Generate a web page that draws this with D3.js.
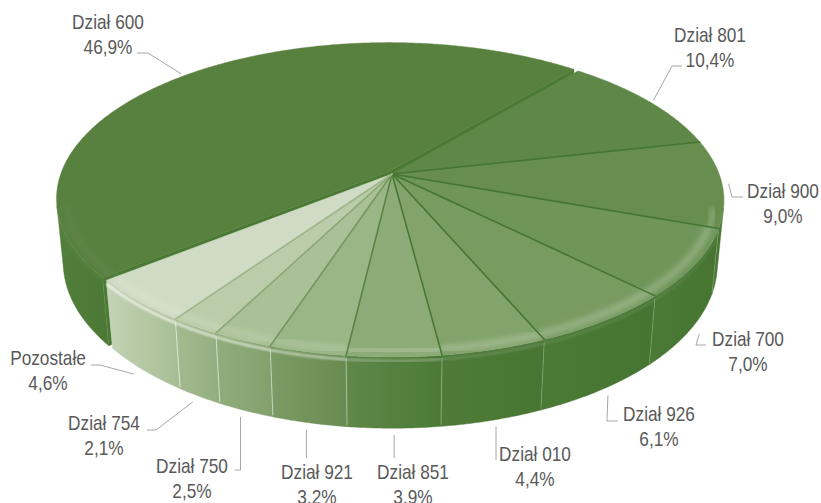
<!DOCTYPE html>
<html>
<head>
<meta charset="utf-8">
<script src="https://cdn.jsdelivr.net/npm/d3@7"></script>
<style>
  html, body { margin: 0; padding: 0; background: #ffffff; }
  svg { display: block; }
  .lbl { font-family: 'Liberation Sans Narrow', 'Arial Narrow', 'Liberation Sans', sans-serif; font-size: 21px; fill: #595959; }
</style>
</head>
<body>
<svg id="chart" width="821" height="503"></svg>
<script>
// ---- data ----
const categories = ['Dział 600', 'Dział 801', 'Dział 900', 'Dział 700', 'Dział 926', 'Dział 010',
                    'Dział 851', 'Dział 921', 'Dział 750', 'Dział 754', 'Pozostałe'];
const shares = [46.9, 10.4, 9.0, 7.0, 6.1, 4.4, 3.9, 3.2, 2.5, 2.1, 4.6];

// ---- styling ----
const topColors = ['#58803f', '#5f8747', '#678e4f', '#6f9558', '#789b61', '#82a36b',
                   '#8dab77', '#9bb686', '#aac197', '#bacca9', '#cfdbc4'];
const sideLight = ['#52803c', '#4c7b37', '#4b7a36', '#4b7a36', '#4b7a36', '#4e7c38',
                   '#5f8849', '#7b9c64', '#92ad7c', '#a4ba90', '#c4d3b6'];
const sideDark  = ['#4b7935', '#477633', '#467532', '#467532', '#467532', '#477633',
                   '#4b7a36', '#688b52', '#82a06c', '#94ae80', '#a6bd92'];
const bevelAlpha = [0.03, 0.04, 0.06, 0.08, 0.1, 0.14, 0.3, 0.55, 0.65, 0.7, 0.75];
const glowAlpha  = [0.03, 0.12, 0.16, 0.2, 0.2, 0.2, 0.18, 0.15, 0.12, 0.12, 0.12];
const explode = [0.018, 0, 0, 0, 0, 0, 0, 0, 0, 0, 0];
const narrow = 0.82;   // horizontal squeeze of label glyphs

// label layout: centre x, first baseline y, leader points (from slice outwards; null x = same as anchor)
const labelX = [108, 710, 783, 748, 659, 535, 413, 317, 192, 104, 48];
const labelY = [29, 42, 198, 346, 421, 461, 479, 479, 473, 430, 365];
const lineGap = 24.5;
const leaderPts = [
  [[148, 53], [137, 53]],
  [[672, 66], [682, 66]],
  [[732, 197], [743, 197]],
  [[696, 345], [706, 345]],
  [[607, 421], [618, 421]],
  [[496, 460]],
  [[null, 458]],
  [[null, 458]],
  [[null, 470], [235, 470]],
  [[156, 430], [147, 430]],
  [[100, 365], [91, 365]]
];

// ---- 3D view ----
const deg = Math.PI / 180;
const view = { cx: 392, cy: 174, F: 1710, D: 5.227, tilt: 27.68 * deg, h: 0.2216 };
const startAngle = -128.7 * deg;
const cT = Math.cos(view.tilt), sT = Math.sin(view.tilt);

function project(x, y, z) {
  const qx = x, qy = y + view.D * cT, qz = z - view.D * sT;
  const depth = qy * cT - qz * sT;
  const up = qy * sT + qz * cT;
  return [view.cx + view.F * qx / depth, view.cy - view.F * up / depth];
}
function pt(a, r, z, off) {
  return project(off[0] + r * Math.sin(a), off[1] + r * Math.cos(a), z);
}
function arcPts(a0, a1, r, z, off) {
  const n = Math.max(2, Math.ceil(Math.abs(a1 - a0) / (0.5 * deg)));
  return d3.range(n + 1).map(k => pt(a0 + (a1 - a0) * k / n, r, z, off));
}
// part of the outer wall that faces the viewer
const aLim = Math.acos(-1 / (view.D * cT));
function frontPart(a0, a1) {
  for (const k of [-1, 0, 1]) {
    const L = aLim + k * 2 * Math.PI, U = 2 * Math.PI - aLim + k * 2 * Math.PI;
    const b0 = Math.max(a0, L), b1 = Math.min(a1, U);
    if (b1 > b0) return [b0, b1];
  }
  return null;
}

const pie = d3.pie().sort(null).value(d => d)
  .startAngle(startAngle).endAngle(startAngle + 2 * Math.PI);
const slices = pie(shares).map((d, i) => {
  const mid = (d.startAngle + d.endAngle) / 2;
  const e = explode[i];
  return Object.assign({}, d, { i, mid, off: [e * Math.sin(mid), e * Math.cos(mid)],
                                front: frontPart(d.startAngle, d.endAngle) });
});

const svg = d3.select('#chart');
const defs = svg.append('defs');
defs.append('filter').attr('id', 'soft').attr('x', '-10%').attr('y', '-10%')
  .attr('width', '120%').attr('height', '120%')
  .append('feGaussianBlur').attr('stdDeviation', 1.1);
defs.append('filter').attr('id', 'softer').attr('x', '-10%').attr('y', '-10%')
  .attr('width', '120%').attr('height', '120%')
  .append('feGaussianBlur').attr('stdDeviation', 2.5);

const poly = d3.line().curve(d3.curveLinearClosed);
const open = d3.line();
const g = svg.append('g');

// outer walls
function drawWall(s) {
  if (!s.front) return;
  const [b0, b1] = s.front;
  const top = arcPts(b0, b1, 1, 0, s.off);
  const bot = arcPts(b1, b0, 1, -view.h, s.off);
  const all = top.concat(bot);
  const xs = d3.extent(all, p => p[0]);
  const gid = 'wall' + s.i;
  const lg = defs.append('linearGradient').attr('id', gid)
    .attr('gradientUnits', 'userSpaceOnUse')
    .attr('x1', xs[0]).attr('x2', xs[1]).attr('y1', 0).attr('y2', 0);
  lg.append('stop').attr('offset', 0).attr('stop-color', sideLight[s.i]);
  lg.append('stop').attr('offset', 1).attr('stop-color', sideDark[s.i]);
  g.append('path').attr('d', poly(all)).attr('fill', `url(#${gid})`)
    .attr('stroke', sideDark[s.i]).attr('stroke-width', 0.4);
}
// cut faces of pulled-out slices
function drawFaces(s) {
  if (!explode[s.i]) return;
  [s.startAngle, s.endAngle].forEach(a => {
    const q = [pt(a, 0, 0, s.off), pt(a, 1, 0, s.off), pt(a, 1, -view.h, s.off), pt(a, 0, -view.h, s.off)];
    g.append('path').attr('d', poly(q)).attr('fill', '#4a7934')
      .attr('stroke', '#4a7934').attr('stroke-width', 0.5);
  });
}

slices.filter(s => explode[s.i]).forEach(s => { drawWall(s); drawFaces(s); });
slices.filter(s => !explode[s.i]).forEach(drawWall);

// light seams between wall segments
slices.forEach(s => {
  if (!s.front) return;
  [s.front[0], s.front[1]].forEach(a => {
    if (Math.abs(a - s.startAngle) > 1e-6 && Math.abs(a - s.endAngle) > 1e-6) return;
    g.append('path').attr('d', open([pt(a, 1, -0.01, s.off), pt(a, 1, -view.h + 0.005, s.off)]))
      .attr('stroke', '#ffffff').attr('stroke-opacity', 0.08 + 0.35 * bevelAlpha[s.i])
      .attr('stroke-width', 1);
  });
});

// top faces
slices.forEach(s => {
  const pts = [pt(0, 0, 0, s.off)].concat(arcPts(s.startAngle, s.endAngle, 1, 0, s.off));
  g.append('path').attr('d', poly(pts)).attr('fill', topColors[s.i])
    .attr('stroke', topColors[s.i]).attr('stroke-width', 0.5);
});

// soft light band just inside the front rim
slices.forEach(s => {
  if (!s.front) return;
  const [b0, b1] = s.front;
  g.append('path').attr('d', open(arcPts(b0, b1, 0.972, 0, s.off)))
    .attr('fill', 'none').attr('stroke', '#ffffff').attr('stroke-width', 8)
    .attr('stroke-opacity', glowAlpha[s.i]).attr('filter', 'url(#softer)');
});

// dividing lines on the top
slices.forEach(s => {
  const prev = slices[(s.i + slices.length - 1) % slices.length];
  if (explode[s.i] || explode[prev.i]) return;
  const c = d3.interpolateRgb(sideDark[prev.i], sideDark[s.i])(0.5);
  g.append('path').attr('d', open([pt(s.startAngle, 0, 0, s.off), pt(s.startAngle, 1, 0, s.off)]))
    .attr('stroke', c).attr('stroke-width', 1.6).attr('stroke-linecap', 'round');
});

// rounded rim highlight
slices.forEach(s => {
  if (!s.front) return;
  const [b0, b1] = s.front;
  g.append('path').attr('d', open(arcPts(b0, b1, 1, -0.012, s.off)))
    .attr('fill', 'none').attr('stroke', '#ffffff').attr('stroke-width', 2.4)
    .attr('stroke-opacity', bevelAlpha[s.i]).attr('filter', 'url(#soft)');
});

// labels
const pl = d3.formatLocale({ decimal: ',', thousands: '\u00a0', grouping: [3], currency: ['', '\u00a0zł'] });
const pct = pl.format('.1f');
const lab = svg.append('g');
function narrowText(x, y, str) {
  const t = lab.append('text').attr('class', 'lbl').attr('text-anchor', 'middle')
    .attr('x', x).attr('y', y).text(str);
  const w = t.node().getComputedTextLength();
  t.attr('textLength', w * narrow).attr('lengthAdjust', 'spacingAndGlyphs');
}
slices.forEach(s => {
  const back = Math.cos(s.mid) > -0.3;
  const anchor = back ? pt(s.mid, 1.02, 0, s.off) : pt(s.mid, 1.03, -view.h, s.off);
  const pts = [anchor].concat(leaderPts[s.i].map(p => [p[0] === null ? anchor[0] : p[0], p[1]]));
  lab.append('path').attr('d', open(pts)).attr('fill', 'none')
    .attr('stroke', '#a6a6a6').attr('stroke-width', 1);
  narrowText(labelX[s.i], labelY[s.i], categories[s.i]);
  narrowText(labelX[s.i], labelY[s.i] + lineGap, pct(shares[s.i]) + '%');
});
</script>
</body>
</html>
